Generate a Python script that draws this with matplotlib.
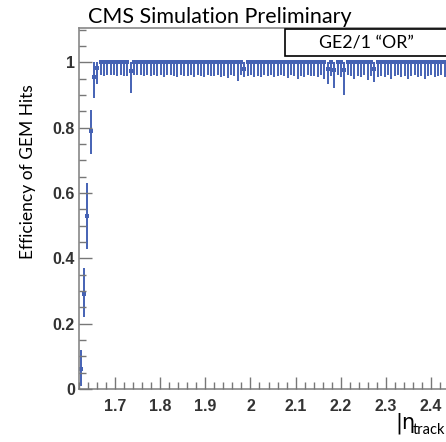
import numpy as np
import matplotlib
matplotlib.use("Agg")
import matplotlib.pyplot as plt
from matplotlib.patches import Rectangle
from matplotlib.ticker import MultipleLocator

# efficiency per eta bin (110 bins from 1.62 to 2.434)
eta_lo, eta_hi, nbins = 1.62, 2.434, 110

eff = [0.06, 0.29, 0.53, 0.79, 0.955, 0.983, 1, 1, 1, 1,
       1, 1, 1, 1, 1, 0.974, 1, 1, 1, 1,
       1, 1, 1, 1, 1, 1, 1, 1, 1, 1,
       1, 1, 1, 1, 1, 1, 1, 1, 1, 1,
       1, 1, 1, 1, 1, 1, 1, 1, 1, 0.98,
       1, 1, 1, 1, 1, 1, 1, 1, 1, 1,
       1, 1, 1, 1, 1, 1, 1, 1, 1, 1,
       1, 1, 1, 1, 0.98, 1, 0.975, 1, 1, 0.975,
       1, 1, 1, 1, 1, 1, 1, 1, 0.98, 1,
       1, 1, 1, 1, 1, 1, 1, 1, 1, 1,
       1, 1, 1, 1, 1, 1, 1, 1, 1, 1]

err_low = [0.05, 0.07, 0.10, 0.07, 0.065, 0.05, 0.04, 0.042, 0.04, 0.038,
           0.04, 0.042, 0.04, 0.041, 0.043, 0.068, 0.04, 0.038, 0.04, 0.042,
           0.04, 0.041, 0.039, 0.042, 0.04, 0.045, 0.04, 0.038, 0.042, 0.044,
           0.04, 0.043, 0.041, 0.039, 0.046, 0.04, 0.042, 0.045, 0.04, 0.041,
           0.043, 0.04, 0.045, 0.042, 0.047, 0.04, 0.041, 0.058, 0.04, 0.025,
           0.042, 0.04, 0.044, 0.041, 0.046, 0.04, 0.043, 0.04, 0.045, 0.041,
           0.04, 0.043, 0.047, 0.04, 0.042, 0.05, 0.041, 0.045, 0.04, 0.043,
           0.042, 0.046, 0.04, 0.052, 0.045, 0.041, 0.055, 0.04, 0.044, 0.075,
           0.04, 0.043, 0.05, 0.041, 0.045, 0.04, 0.055, 0.042, 0.04, 0.044,
           0.041, 0.045, 0.04, 0.052, 0.043, 0.04, 0.046, 0.041, 0.05, 0.042,
           0.04, 0.045, 0.041, 0.05, 0.043, 0.04, 0.046, 0.042, 0.04, 0.044]

# upper errors for the turn-on bins, the rest are clipped at 1
err_high_first = [0.06, 0.08, 0.10, 0.065, 0.045, 0.017]

x_ticks = [1.7, 1.8, 1.9, 2.0, 2.1, 2.2, 2.3, 2.4]
x_labels = ['1.7', '1.8', '1.9', '2', '2.1', '2.2', '2.3', '2.4']
y_ticks = [0, 0.2, 0.4, 0.6, 0.8, 1.0]
y_labels = ['0', '0.2', '0.4', '0.6', '0.8', '1']

eff = np.array(eff)
err_low = np.array(err_low)
err_high = 1.0 - eff
err_high[:len(err_high_first)] = err_high_first

edges = np.linspace(eta_lo, eta_hi, nbins + 1)
centers = 0.5 * (edges[1:] + edges[:-1])
half_w = 0.5 * (edges[1] - edges[0])

# ROOT-like inward ticks
for a in ('xtick', 'ytick'):
    plt.rcParams[a + '.direction'] = 'in'
    plt.rcParams[a + '.color'] = '#777777'
    plt.rcParams[a + '.major.size'] = 9
    plt.rcParams[a + '.minor.size'] = 5
    plt.rcParams[a + '.major.width'] = 1
    plt.rcParams[a + '.minor.width'] = 1
plt.rcParams['xtick.major.pad'] = 7
plt.rcParams['ytick.major.pad'] = 3

W, H = 446, 442
fig = plt.figure(figsize=(W / 100, H / 100), dpi=100)
ax = fig.add_axes([79 / W, 53 / H, 379 / W, 361 / H])
ax.set_axisbelow(False)

col = '#4562b4'
ax.errorbar(centers, eff, yerr=[err_low, err_high], xerr=half_w,
            fmt='s', ms=2.5, color=col, ecolor=col, elinewidth=1.4,
            capsize=0, mew=0)

ax.set_xlim(1.62, 2.46)
ax.set_ylim(0, 1.105)

tick_font = dict(family='Liberation Sans', weight='bold', size=11.5,
                 color='#333333')
ax.set_xticks(x_ticks, x_labels, **tick_font)
ax.set_yticks(y_ticks, y_labels, **tick_font)
ax.xaxis.set_minor_locator(MultipleLocator(0.02))
ax.yaxis.set_minor_locator(MultipleLocator(0.05))

for axis in (ax.xaxis, ax.yaxis):
    axis.set_tick_params(which='major', direction='in', length=9, width=1,
                         color='#777777')
    axis.set_tick_params(which='minor', direction='in', length=5, width=1,
                         color='#777777')
ax.tick_params(top=False, right=False, bottom=True, left=True)

for s in ax.spines.values():
    s.set_color('#888888')
    s.set_linewidth(1.2)

fig.text(88 / W, 1 - 17 / H, 'CMS Simulation Preliminary', family='Lato',
         fontsize=15.5, ha='left', va='center')

fig.patches.append(Rectangle((285 / W, 1 - 56 / H), 0.5, 27 / H,
                             transform=fig.transFigure, facecolor='white',
                             edgecolor='black', lw=1.2, zorder=5))
fig.text(366 / W, 1 - 42 / H, 'GE2/1 \u201cOR\u201d', family='Lato',
         fontsize=12.8, ha='center', va='center', zorder=6)

fig.text(28 / W, 1 - 172 / H, 'Efficiency of GEM Hits', family='Lato',
         fontsize=12.5, rotation=90, ha='center', va='center')

# x axis title, sitting in the bottom right corner
fig.text(395 / W, 1 - 423 / H, '|\u03b7', family='DejaVu Sans',
         fontsize=15, ha='left', va='center')
fig.text(445 / W, 1 - 430 / H, 'track', family='Lato',
         fontsize=10.5, ha='right', va='center')

fig.savefig('out.png', dpi=100)
